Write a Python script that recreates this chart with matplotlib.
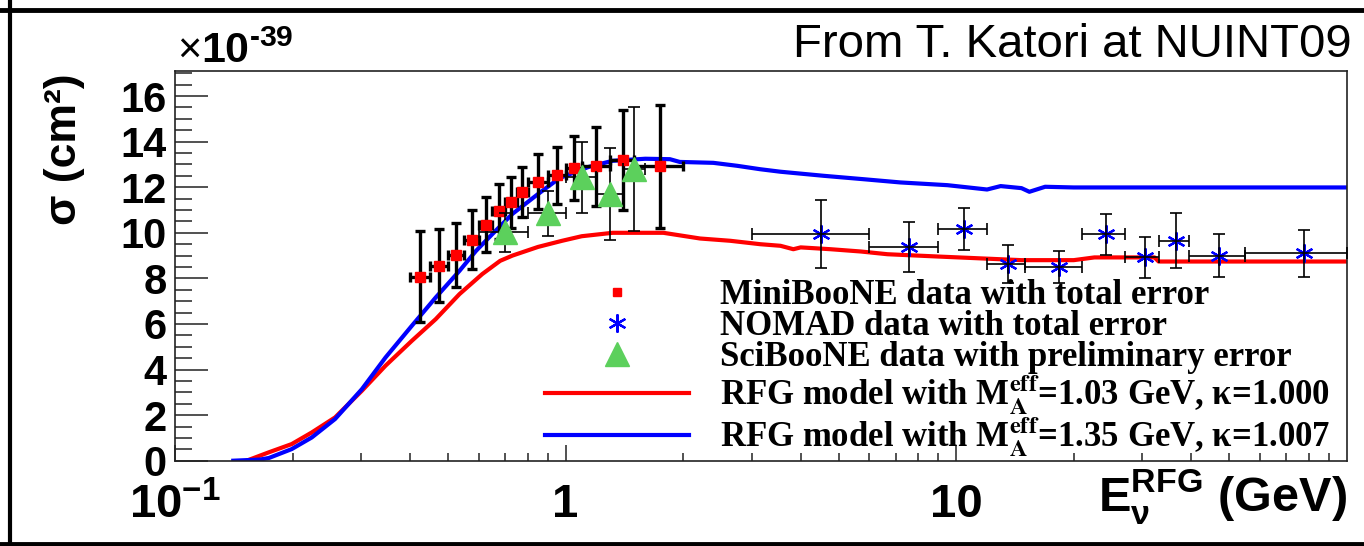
import numpy as np
import matplotlib
matplotlib.use("Agg")
import matplotlib.pyplot as plt
from matplotlib.lines import Line2D
from matplotlib.ticker import FixedLocator, FixedFormatter, MultipleLocator, LogLocator, NullFormatter

plt.rcParams['font.family'] = ['Liberation Sans', 'DejaVu Sans']
plt.rcParams['mathtext.fontset'] = 'custom'
plt.rcParams['mathtext.rm'] = 'Liberation Sans:bold'
plt.rcParams['mathtext.bf'] = 'Liberation Sans:bold'
plt.rcParams['mathtext.it'] = 'Liberation Sans:bold'
plt.rcParams['axes.unicode_minus'] = False

# RFG model curves (sigma in 1e-39 cm^2)
rfg_blue_E = [0.141, 0.165, 0.174, 0.199, 0.224, 0.257, 0.301, 0.346, 0.404, 0.465, 0.535, 0.59,
              0.65, 0.731, 0.85, 0.965, 1.15, 1.32, 1.6, 1.85, 1.96, 2.39, 2.75, 3.15, 3.55,
              4.59, 5.81, 7.2, 9.5, 12.0, 13.0, 14.7, 15.4, 16.9, 20.0, 100.0]
rfg_blue_sig = [0.0, 0.05, 0.12, 0.51, 1.02, 1.83, 3.14, 4.53, 5.92, 7.16, 8.33, 9.21,
                9.95, 10.83, 11.7, 12.4, 12.9, 13.16, 13.25, 13.23, 13.11, 13.07, 12.94, 12.79, 12.68,
                12.5, 12.35, 12.21, 12.09, 11.9, 12.05, 11.96, 11.8, 12.02, 11.99, 11.99]

rfg_red_E = [0.1525, 0.174, 0.199, 0.224, 0.257, 0.301, 0.346, 0.404, 0.465, 0.535, 0.612, 0.68,
             0.731, 0.85, 0.98, 1.1, 1.32, 1.78, 2.21, 2.64, 3.15, 3.55, 3.83, 4.0, 4.77, 5.7,
             6.67, 8.96, 14.7, 20.0, 22.6, 32.2, 33.0, 100.0]
rfg_red_sig = [0.0, 0.37, 0.73, 1.24, 1.9, 3.07, 4.17, 5.26, 6.21, 7.31, 8.19, 8.77,
               9.0, 9.38, 9.65, 9.85, 10.0, 10.0, 9.75, 9.65, 9.5, 9.43, 9.28, 9.36, 9.28, 9.18,
               9.06, 8.96, 8.8, 8.8, 8.92, 8.92, 8.74, 8.74]

# MiniBooNE
mb_E = [0.425, 0.475, 0.525, 0.575, 0.625, 0.675, 0.725, 0.775, 0.85, 0.95, 1.05, 1.2, 1.4, 1.75]
mb_Ewidth = [0.025, 0.025, 0.025, 0.025, 0.025, 0.025, 0.025, 0.025, 0.05, 0.05, 0.05, 0.1, 0.1, 0.25]
mb_sig = [8.08, 8.55, 9.03, 9.69, 10.35, 10.94, 11.33, 11.8, 12.25, 12.53, 12.84, 12.91, 13.2, 12.91]
mb_err = [2.0, 1.6, 1.4, 1.3, 1.2, 1.2, 1.1, 1.1, 1.2, 1.25, 1.4, 1.75, 2.2, 2.7]

# NOMAD
nomad_E = [4.52, 7.56, 10.5, 13.6, 18.3, 24.2, 30.5, 36.5, 47.2, 77.8]
nomad_Elo = [3.0, 6.0, 9.0, 12.0, 15.0, 21.0, 27.0, 33.0, 39.5, 55.0]
nomad_Ehi = [6.0, 9.0, 12.0, 15.0, 21.0, 27.0, 33.0, 39.5, 55.0, 100.0]
nomad_sig = [9.94, 9.36, 10.16, 8.63, 8.48, 9.94, 8.92, 9.65, 8.99, 9.10]
nomad_err = [1.5, 1.1, 0.93, 0.85, 0.7, 0.9, 0.9, 1.2, 0.95, 1.03]

# SciBooNE
sb_E = [0.7, 0.9, 1.1, 1.3, 1.5]
sb_Ewidth = [0.1, 0.1, 0.1, 0.1, 0.1]
sb_sig = [10.02, 10.85, 12.43, 11.7, 12.8]
sb_err = [0.85, 0.98, 1.55, 2.0, 2.7]

xtick_vals = [0.1, 1, 10]
xtick_labels = [r'$\mathbf{10^{-1}}$', '1', '10']
ytick_vals = list(range(0, 17, 2))

legend_labels = ['MiniBooNE data with total error',
                 'NOMAD data with total error',
                 'SciBooNE data with preliminary error',
                 r'RFG model with M$_{\mathbf{A}}^{\mathbf{eff}}$=1.03 GeV, κ=1.000',
                 r'RFG model with M$_{\mathbf{A}}^{\mathbf{eff}}$=1.35 GeV, κ=1.007']

green = '#5cd05c'

fig = plt.figure(figsize=(13.64, 5.46), dpi=100)
ax = fig.add_axes([175 / 1364, 85.3 / 546, 1171.7 / 1364, 389.7 / 546])

ax.plot(rfg_red_E, rfg_red_sig, color='red', lw=3, zorder=2)
ax.plot(rfg_blue_E, rfg_blue_sig, color='blue', lw=3, zorder=2)

# NOMAD: stars below the black bars
nomad_xerr = [np.array(nomad_E) - np.array(nomad_Elo), np.array(nomad_Ehi) - np.array(nomad_E)]
ax.plot(nomad_E, nomad_sig, ls='none', marker=(6, 2, 0), ms=13, mew=1.6, color='blue', zorder=3)
ax.errorbar(nomad_E, nomad_sig, yerr=nomad_err, xerr=nomad_xerr, fmt='none', ecolor='black',
            elinewidth=1.2, capsize=4, capthick=1.2, zorder=4)

# MiniBooNE
ax.errorbar(mb_E, mb_sig, yerr=mb_err, xerr=mb_Ewidth, fmt='s', color='red', ms=6.5,
            ecolor='black', elinewidth=2.4, capsize=3.5, capthick=2.4, zorder=5)

# SciBooNE
ax.errorbar(sb_E, sb_sig, yerr=sb_err, xerr=sb_Ewidth, fmt='none', ecolor='black',
            elinewidth=1.2, capsize=4, capthick=1.2, zorder=6)
ax.plot(sb_E, sb_sig, ls='none', marker='^', ms=17, color=green, mec=green, zorder=7)

ax.set_xscale('log')
ax.set_xlim(0.1, 100)
ax.set_ylim(0, 17.1)

ax.xaxis.set_major_locator(FixedLocator(xtick_vals))
ax.xaxis.set_major_formatter(FixedFormatter(xtick_labels))
ax.xaxis.set_minor_locator(LogLocator(base=10, subs=np.arange(2, 10)))
ax.xaxis.set_minor_formatter(NullFormatter())
ax.yaxis.set_major_locator(FixedLocator(ytick_vals))
ax.yaxis.set_minor_locator(MultipleLocator(0.5))

ax.tick_params(axis='both', which='both', direction='in', top=False, right=False, color='#222222')
ax.tick_params(axis='x', which='major', length=11.5, width=1.1, pad=16, labelsize=34)
ax.tick_params(axis='x', which='minor', length=5.8, width=1.1)
ax.tick_params(axis='y', which='major', length=24, width=1.1, pad=6, labelsize=30)
ax.tick_params(axis='y', which='minor', length=12, width=1.1)
for lab in ax.get_xticklabels() + ax.get_yticklabels():
    lab.set_fontweight('bold')
for sp in ax.spines.values():
    sp.set_linewidth(1.2)
    sp.set_color('#222222')

ax.set_xlabel(r'$\mathbf{E_{\nu}^{RFG}}$ (GeV)', fontsize=35, fontweight='bold', loc='right')
ax.xaxis.set_label_coords(1.0, -0.015)
ax.set_ylabel('σ (cm²)', fontsize=32, fontweight='bold')
ax.yaxis.set_label_coords(-0.077, 0.80)

fig.text(177 / 1364, 1 - 63 / 546, '×', fontsize=30, va='baseline', ha='left')
fig.text(201 / 1364, 1 - 63 / 546, r'$\mathbf{10^{\text{-}39}}$', fontsize=31, va='baseline', ha='left')
fig.text(1352 / 1364, 1 - 57 / 546, 'From T. Katori at NUINT09', fontsize=34, va='baseline', ha='right')

handles = [Line2D([], [], ls='none', marker='s', color='red', ms=6),
           Line2D([], [], ls='none', marker=(6, 2, 0), color='blue', ms=13, mew=1.6),
           Line2D([], [], ls='none', marker='^', color=green, ms=17),
           Line2D([], [], color='red', lw=3),
           Line2D([], [], color='blue', lw=3)]
leg = ax.legend(handles, legend_labels, loc='upper left', bbox_to_anchor=(0.3158, 0.467),
                frameon=False, prop={'family': 'Liberation Serif', 'weight': 'bold', 'size': 25},
                handlelength=4.15, handletextpad=0.9, labelspacing=-0.05, borderpad=0, borderaxespad=0)
for t in leg.get_texts():
    t.set_math_fontfamily('stix')

# outer black frame of the slide
fig.add_artist(Line2D([10 / 1364, 10 / 1364], [0, 1], color='black', lw=3, transform=fig.transFigure))
fig.add_artist(Line2D([0, 1], [1 - 9.5 / 546, 1 - 9.5 / 546], color='black', lw=3.5, transform=fig.transFigure))
fig.add_artist(Line2D([0, 1], [1 - 544 / 546, 1 - 544 / 546], color='black', lw=3.5, transform=fig.transFigure))

fig.savefig('out.png', dpi=100)
